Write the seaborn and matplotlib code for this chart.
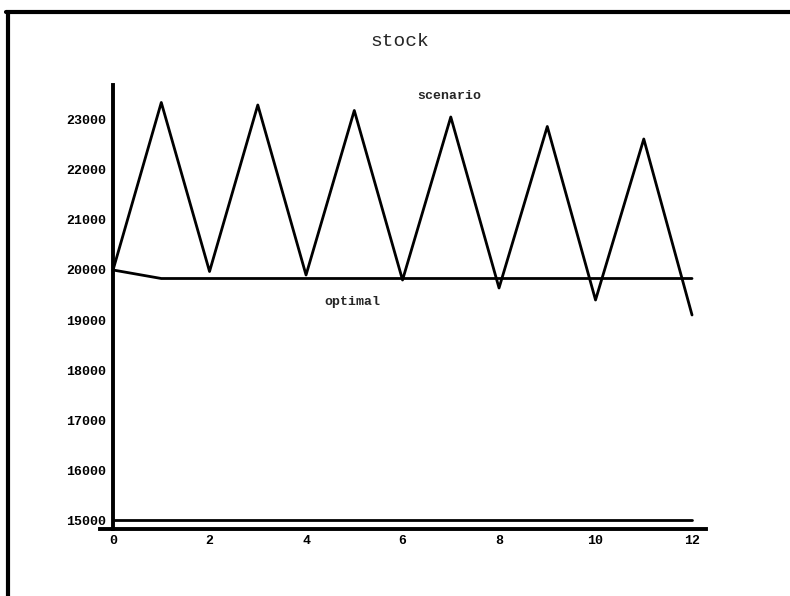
import matplotlib
matplotlib.use("Agg")
import matplotlib.pyplot as plt
from matplotlib.lines import Line2D
import seaborn as sns
import pandas as pd

periods = list(range(13))
scenario = [20000, 23350, 19970, 23300, 19900, 23190, 19800,
            23060, 19640, 22870, 19400, 22620, 19100]
optimal = [20000] + [19830] * 12
floor = [15000] * 13

x_ticks = [0, 2, 4, 6, 8, 10, 12]
y_ticks = [15000, 16000, 17000, 18000, 19000, 20000, 21000, 22000, 23000]

sns.set_style("white")
plt.rcParams["font.family"] = ["Liberation Mono", "DejaVu Sans Mono"]

df = pd.DataFrame({
    "period": periods * 3,
    "stock": scenario + optimal + floor,
    "series": ["scenario"] * 13 + ["optimal"] * 13 + ["floor"] * 13,
})

fig = plt.figure(figsize=(7.9, 5.96), dpi=100)
ax = fig.add_axes([0.1266, 0.1124, 0.7671, 0.745])

sns.lineplot(data=df, x="period", y="stock", units="series", estimator=None,
             color="black", linewidth=2.0, ax=ax, legend=False)

ax.set_xlim(-0.27, 12.29)
ax.set_ylim(14820, 23700)
ax.set_xticks(x_ticks)
ax.set_yticks(y_ticks)
ax.set_xlabel("")
ax.set_ylabel("")

for side in ("top", "right"):
    ax.spines[side].set_visible(False)
ax.spines["left"].set_position(("data", 0))
for side in ("left", "bottom"):
    ax.spines[side].set_linewidth(2.8)
    ax.spines[side].set_color("black")

ax.tick_params(axis="y", direction="inout", length=8, width=1.8, pad=1,
               labelsize=9.5, colors="black")
ax.tick_params(axis="x", direction="inout", length=5, width=1.4, pad=2,
               labelsize=9.5, colors="black")
for lab in ax.get_xticklabels() + ax.get_yticklabels():
    lab.set_fontweight("bold")

ax.text(6.96, 23480, "scenario", fontsize=9.5, fontweight="bold",
        ha="center", va="center")
ax.text(4.97, 19350, "optimal", fontsize=9.5, fontweight="bold",
        ha="center", va="center")

fig.text(400 / 790, 1 - 42 / 596, "stock", fontsize=14,
         ha="center", va="center")

# page frame along the top and left edges
fig.add_artist(Line2D([6 / 790, 1.0], [1 - 12 / 596, 1 - 12 / 596],
                      transform=fig.transFigure, color="black", linewidth=3))
fig.add_artist(Line2D([8 / 790, 8 / 790], [0.0, 1 - 12 / 596],
                      transform=fig.transFigure, color="black", linewidth=3))

fig.savefig("out.png", dpi=100, facecolor="white")
